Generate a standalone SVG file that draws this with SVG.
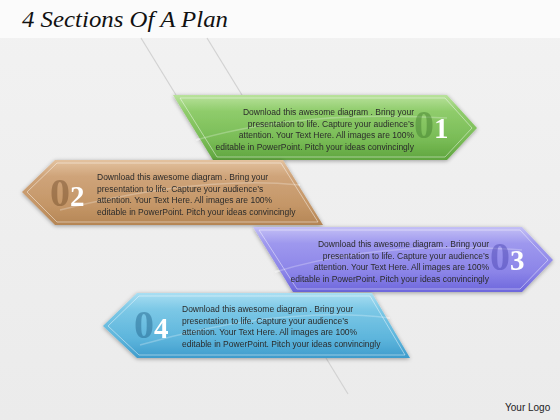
<svg xmlns="http://www.w3.org/2000/svg" width="560" height="420" viewBox="0 0 560 420">
<style>
.t{font-family:"Liberation Sans",Arial,sans-serif;font-size:8.5px;fill:#2b2b2b}
.z{font-family:"Liberation Serif","Times New Roman",serif;font-size:40px;font-weight:bold}
.d{font-family:"Liberation Serif","Times New Roman",serif;font-size:29px;font-weight:bold;fill:#ffffff}
.rim{fill:none;stroke:#ffffff;stroke-opacity:0.45;stroke-width:1}
.dl{stroke:#d2d2d2;stroke-width:1.2;fill:none}
</style>
<defs>
<linearGradient id="bg" x1="0" y1="0" x2="0" y2="1">
<stop offset="0" stop-color="#f2f2f2"/><stop offset="1" stop-color="#ebebeb"/>
</linearGradient>
<linearGradient id="gG" x1="0" y1="0" x2="0" y2="1">
<stop offset="0" stop-color="#b9e29c"/><stop offset="0.25" stop-color="#8fcc6b"/><stop offset="0.7" stop-color="#78bb55"/><stop offset="1" stop-color="#5fa53e"/>
</linearGradient>
<linearGradient id="gB" x1="0" y1="0" x2="0" y2="1">
<stop offset="0" stop-color="#e3c29f"/><stop offset="0.25" stop-color="#cfa47a"/><stop offset="0.7" stop-color="#c49667"/><stop offset="1" stop-color="#b58655"/>
</linearGradient>
<linearGradient id="gP" x1="0" y1="0" x2="0" y2="1">
<stop offset="0" stop-color="#c4c0f6"/><stop offset="0.25" stop-color="#9e98ee"/><stop offset="0.7" stop-color="#8b84e8"/><stop offset="1" stop-color="#6d66dc"/>
</linearGradient>
<linearGradient id="gL" x1="0" y1="0" x2="0" y2="1">
<stop offset="0" stop-color="#a9def2"/><stop offset="0.25" stop-color="#7cc8e6"/><stop offset="0.7" stop-color="#5db5dc"/><stop offset="1" stop-color="#3f9ccc"/>
</linearGradient>
<filter id="glow" x="-10%" y="-20%" width="120%" height="140%">
<feGaussianBlur in="SourceAlpha" stdDeviation="2"/>
<feOffset dy="1"/>
<feComponentTransfer><feFuncA type="linear" slope="0.35"/></feComponentTransfer>
<feMerge><feMergeNode/><feMergeNode in="SourceGraphic"/></feMerge>
</filter>
</defs>
<rect x="0" y="0" width="560" height="420" fill="url(#bg)"/>
<rect x="0" y="0" width="560" height="38" fill="#fbfbfb"/>
<line class="dl" x1="141" y1="38" x2="176" y2="95"/>
<line class="dl" x1="207" y1="38" x2="242" y2="95"/>
<line class="dl" x1="326" y1="358" x2="348" y2="394"/>
<text x="22" y="27" font-family="'Liberation Serif','Times New Roman',serif" font-style="italic" font-size="24" textLength="206" lengthAdjust="spacingAndGlyphs" fill="#111">4 Sections Of A Plan</text>

<g id="section1" filter="url(#glow)">
<polygon points="173,95 447,95 477,128 447,160 213,160" fill="url(#gG)"/>
<polygon class="rim" points="180,98 445,98 472,128 445,157 217,157"/>
<path d="M196,140 Q300,110 447,118" fill="none" stroke="#ffffff" stroke-opacity="0.25" stroke-width="1.5"/>
<text class="t" text-anchor="end"><tspan x="414" y="115">Download this awesome diagram . Bring your</tspan><tspan x="414" y="126.5">presentation to life. Capture your audience’s</tspan><tspan x="414" y="138">attention.  Your Text Here. All images are 100%</tspan><tspan x="414" y="149.5">editable in PowerPoint.  Pitch your ideas convincingly</tspan></text>
<text class="z" x="414" y="138" fill="#3e7a2a" fill-opacity="0.45">0</text>
<text class="d" x="434" y="138">1</text>
</g>

<g id="section2" filter="url(#glow)">
<polygon points="22,192 55,160 283,160 323,225 55,225" fill="url(#gB)"/>
<polygon class="rim" points="27,192 57,163 281,163 318,222 57,222"/>
<path d="M60,210 Q200,175 300,185" fill="none" stroke="#ffffff" stroke-opacity="0.25" stroke-width="1.5"/>
<text class="t"><tspan x="97" y="180">Download this awesome diagram . Bring your</tspan><tspan x="97" y="191.5">presentation to life. Capture your audience’s</tspan><tspan x="97" y="203">attention.  Your Text Here. All images are 100%</tspan><tspan x="97" y="214.5">editable in PowerPoint.  Pitch your ideas convincingly</tspan></text>
<text class="z" x="50" y="206" fill="#6e4a28" fill-opacity="0.45">0</text>
<text class="d" x="70" y="206">2</text>
</g>

<g id="section3" filter="url(#glow)">
<polygon points="253,227 522,227 553,260 522,292 293,292" fill="url(#gP)"/>
<polygon class="rim" points="259,230 520,230 548,260 520,289 297,289"/>
<path d="M275,272 Q380,240 522,250" fill="none" stroke="#ffffff" stroke-opacity="0.25" stroke-width="1.5"/>
<text class="t" text-anchor="end"><tspan x="489" y="247">Download this awesome diagram . Bring your</tspan><tspan x="489" y="258.5">presentation to life. Capture your audience’s</tspan><tspan x="489" y="270">attention.  Your Text Here. All images are 100%</tspan><tspan x="489" y="281.5">editable in PowerPoint.  Pitch your ideas convincingly</tspan></text>
<text class="z" x="490" y="270" fill="#3d36a8" fill-opacity="0.4">0</text>
<text class="d" x="510" y="270">3</text>
</g>

<g id="section4" filter="url(#glow)">
<polygon points="103,326 137,293 372,293 410,358 137,358" fill="url(#gL)"/>
<polygon class="rim" points="108,326 139,296 370,296 405,355 139,355"/>
<path d="M140,345 Q280,305 390,318" fill="none" stroke="#ffffff" stroke-opacity="0.25" stroke-width="1.5"/>
<text class="t"><tspan x="182" y="312">Download this awesome diagram . Bring your</tspan><tspan x="182" y="323.5">presentation to life. Capture your audience’s</tspan><tspan x="182" y="335">attention.  Your Text Here. All images are 100%</tspan><tspan x="182" y="346.5">editable in PowerPoint.  Pitch your ideas convincingly</tspan></text>
<text class="z" x="134" y="338" fill="#1f5f88" fill-opacity="0.45">0</text>
<text class="d" x="154" y="338">4</text>
</g>

<text x="505" y="411" font-family="'Liberation Sans',Arial,sans-serif" font-size="10" fill="#222">Your Logo</text>
</svg>
